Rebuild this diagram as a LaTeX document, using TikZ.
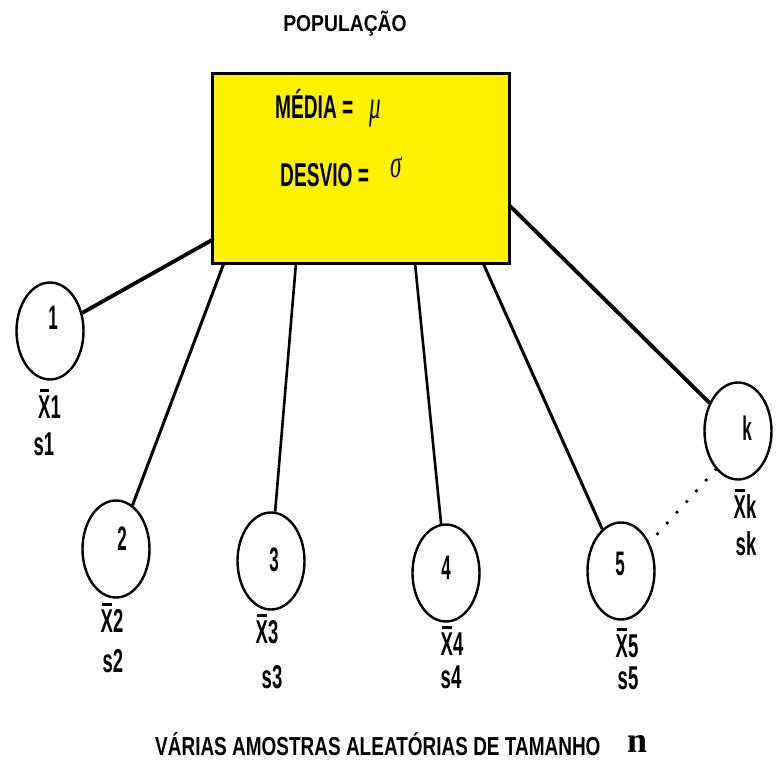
\documentclass[tikz,border=0pt]{standalone}
\usepackage{fontspec}
\usepackage{graphicx}
\setmainfont{Liberation Sans}
\newfontfamily\nserif{Liberation Serif}
\usetikzlibrary{shapes.geometric}
\newcommand\nar[2]{\scalebox{#1}[1]{#2}}
\newcommand\xb{\leavevmode\rlap{\hspace{0.08em}\rule[0.8em]{0.52em}{0.09em}}X}
\newcommand\grk[1]{{\nserif\itshape\mdseries\fontsize{40}{40}\selectfont #1}}
\begin{document}
\begin{tikzpicture}[x=1pt,y=-1pt,
  samp/.style={ellipse, draw, line width=2.4pt, minimum width=67pt, minimum height=97pt, inner sep=0pt},
  popbox/.style={draw, fill=yellow, line width=3pt, minimum width=297pt, minimum height=189pt, inner sep=0pt},
  link/.style={line width=3pt},
  dotline/.style={line width=3.8pt, dash pattern=on 0pt off 14.5pt, line cap=round},
  numtxt/.style={font=\bfseries\fontsize{34}{34}\selectfont, inner sep=0pt},
  lbl/.style={font=\bfseries\fontsize{33}{33}\selectfont, inner sep=0pt, anchor=base},
  boxtxt/.style={font=\bfseries\fontsize{33}{33}\selectfont, inner sep=0pt, anchor=base west},
  ttl/.style={font=\bfseries\fontsize{23}{23}\selectfont, inner sep=0pt, anchor=base},
  foot/.style={font=\bfseries\fontsize{26}{26}\selectfont, inner sep=0pt, anchor=base west}]
\useasboundingbox (0,0) rectangle (776,762);

% population box
\node[popbox] (box) at (360.5,168.5) {};
\node[ttl] (tt) at (345,32) {\nar{0.84}{POPULAÇÃO}};
\node[boxtxt] (med) at (275,119) {\nar{0.58}{MÉDIA =\hspace{0.85em}\grk{μ}}};
\node[boxtxt] (desv) at (280,186) {\nar{0.58}{DESVIO =\hspace{1.1em}\raisebox{9pt}{\grk{σ}}}};

% connector start points on the box border
\coordinate (p1) at (212,240);
\coordinate (p2) at (224,263);
\coordinate (p3) at (296,263);
\coordinate (p4) at (415,263);
\coordinate (p5) at (483,263);
\coordinate (pk) at (509,205);

% samples
\node[samp, label={[numtxt, xshift=3pt, yshift=13pt]center:\nar{0.5}{1}}] (c1) at (50,331) {};
\node[samp, label={[numtxt, xshift=6pt, yshift=10pt]center:\nar{0.5}{2}}] (c2) at (116,549) {};
\node[samp, label={[numtxt, xshift=3pt, yshift=1pt]center:\nar{0.5}{3}}] (c3) at (271,561) {};
\node[samp, label={[numtxt, xshift=0pt, yshift=5pt]center:\nar{0.5}{4}}] (c4) at (446,573) {};
\node[samp, label={[numtxt, xshift=-1pt, yshift=7pt]center:\nar{0.5}{5}}] (c5) at (621,571) {};
\node[samp, label={[numtxt, xshift=9pt, yshift=3pt]center:\nar{0.5}{k}}] (ck) at (738,431) {};

% connectors
\draw[link, line width=3.8pt] (p1) -- (c1);
\draw[link] (p2) -- (c2);
\draw[link, line width=2.6pt] (p3) -- (c3);
\draw[link, line width=2.6pt] (p4) -- (c4);
\draw[link] (p5) -- (c5);
\draw[link, line width=3.8pt] (pk) -- (ck);
\draw[dotline] (ck.240) -- (c5.45);

% sample statistics
\node[lbl] (x1) at (49.5,418) {\nar{0.56}{\xb1}};
\node[lbl] (s1) at (44,455) {\nar{0.56}{s1}};
\node[lbl] (x2) at (112,632) {\nar{0.56}{\xb2}};
\node[lbl] (s2) at (113,672) {\nar{0.56}{s2}};
\node[lbl] (x3) at (267,643) {\nar{0.56}{\xb3}};
\node[lbl] (s3) at (272,688) {\nar{0.56}{s3}};
\node[lbl] (x4) at (452,655) {\nar{0.56}{\xb4}};
\node[lbl] (s4) at (451,688) {\nar{0.56}{s4}};
\node[lbl] (x5) at (627,657) {\nar{0.56}{\xb5}};
\node[lbl] (s5) at (628,689) {\nar{0.56}{s5}};
\node[lbl] (xk) at (745,518) {\nar{0.56}{\xb k}};
\node[lbl] (sk) at (746,555) {\nar{0.56}{sk}};

% footer
\node[foot] (ft) at (155,755) {\nar{0.73}{VÁRIAS AMOSTRAS ALEATÓRIAS DE TAMANHO}};
\node[inner sep=0pt, anchor=base west, font=\nserif\bfseries\fontsize{36}{36}\selectfont] (nn) at (627,752) {n};
\end{tikzpicture}
\end{document}
